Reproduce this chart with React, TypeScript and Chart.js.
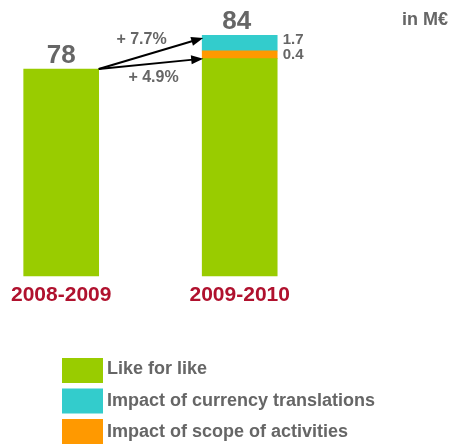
import React, { useEffect, useRef } from 'react';
import { Chart, registerables } from 'chart.js';

Chart.register(...registerables);

// ---- data ----
const categories = ['2008-2009', '2009-2010'];
const likeForLike = [78, 81.9];
const scopeImpact: (number | null)[] = [null, 2.9];
const currencyImpact: (number | null)[] = [null, 5.9];
const totalLabels = ['78', '84'];
const scopeLabels = ['', '0.4'];
const currencyLabels = ['', '1.7'];
const growthLabels = ['+ 7.7%', '+ 4.9%'];
const unitLabel = 'in M€';
const seriesNames = ['Like for like', 'Impact of scope of activities', 'Impact of currency translations'];
const legendOrder = [0, 2, 1];

// ---- styles ----
const FONT = '"Liberation Sans", Arial, Helvetica, sans-serif';
const GRAY = '#666666';
const RED = '#B0112E';
const GREEN = '#99CC00';
const ORANGE = '#FF9900';
const CYAN = '#33CCCC';

function drawArrow(ctx: CanvasRenderingContext2D, x1: number, y1: number, x2: number, y2: number) {
  const ang = Math.atan2(y2 - y1, x2 - x1);
  const hl = 12;
  const hw = 4.5;
  const bx = x2 - hl * Math.cos(ang);
  const by = y2 - hl * Math.sin(ang);
  ctx.beginPath();
  ctx.moveTo(x1, y1);
  ctx.lineTo(bx + 2 * Math.cos(ang), by + 2 * Math.sin(ang));
  ctx.stroke();
  ctx.beginPath();
  ctx.moveTo(x2, y2);
  ctx.lineTo(bx + hw * Math.sin(ang), by - hw * Math.cos(ang));
  ctx.lineTo(bx - hw * Math.sin(ang), by + hw * Math.cos(ang));
  ctx.closePath();
  ctx.fill();
}

const annotationsPlugin = {
  id: 'annotations',
  afterDatasetsDraw(chart: any) {
    const ctx: CanvasRenderingContext2D = chart.ctx;
    const green = chart.getDatasetMeta(0).data;
    const scope = chart.getDatasetMeta(1).data;
    const curr = chart.getDatasetMeta(2).data;
    ctx.save();

    // totals above stacks
    ctx.fillStyle = GRAY;
    ctx.font = `bold 26px ${FONT}`;
    ctx.textAlign = 'center';
    ctx.textBaseline = 'alphabetic';
    categories.forEach((_, i) => {
      let top = green[i].y;
      if (scopeImpact[i] != null) top = Math.min(top, scope[i].y);
      if (currencyImpact[i] != null) top = Math.min(top, curr[i].y);
      ctx.fillText(totalLabels[i], green[i].x - (i === 1 ? 3 : 0), top - 6);
    });

    // segment labels
    ctx.font = `bold 15px ${FONT}`;
    ctx.textAlign = 'left';
    categories.forEach((_, i) => {
      if (currencyImpact[i] != null && currencyLabels[i]) {
        const el = curr[i];
        ctx.fillText(currencyLabels[i], el.x + el.width / 2 + 5.5, el.y + 8.3);
      }
      if (scopeImpact[i] != null && scopeLabels[i]) {
        const el = scope[i];
        ctx.fillText(scopeLabels[i], el.x + el.width / 2 + 5.5, el.y + 7.8);
      }
    });

    // arrows
    const b1 = green[0];
    const g2 = green[1];
    const c2 = curr[1];
    const sx = b1.x + b1.width / 2;
    const sy = b1.y;
    const ex = g2.x - g2.width / 2 + 1;
    const e1y = c2.y + 2.7;
    const e2y = g2.y;
    ctx.strokeStyle = '#000000';
    ctx.fillStyle = '#000000';
    ctx.lineWidth = 2;
    drawArrow(ctx, sx, sy, ex, e1y);
    drawArrow(ctx, sx, sy, ex, e2y);

    // growth labels
    ctx.fillStyle = GRAY;
    ctx.font = `bold 16px ${FONT}`;
    ctx.textAlign = 'center';
    const m1x = (sx + ex) / 2, m1y = (sy + e1y) / 2;
    const m2x = (sx + ex) / 2, m2y = (sy + e2y) / 2;
    ctx.fillText(growthLabels[0], m1x - 9.4, m1y - 9.7);
    ctx.fillText(growthLabels[1], m2x + 2.6, m2y + 17.8);

    // unit
    ctx.font = `bold 18px ${FONT}`;
    ctx.textAlign = 'right';
    ctx.fillText(unitLabel, chart.width - 1, 25);

    // legend
    const area = chart.chartArea;
    const legendTop = area.bottom + 82;
    legendOrder.forEach((dsIndex, k) => {
      const ds = chart.data.datasets[dsIndex];
      const top = legendTop + k * 30.5;
      ctx.fillStyle = ds.backgroundColor;
      ctx.fillRect(62, top, 41, 25);
      ctx.fillStyle = GRAY;
      ctx.font = `bold 18px ${FONT}`;
      ctx.textAlign = 'left';
      ctx.fillText(ds.label, 107, top + 16.3 + k * 0.8);
    });

    ctx.restore();
  },
};

export default function App() {
  const canvasRef = useRef<HTMLCanvasElement | null>(null);

  useEffect(() => {
    if (!canvasRef.current) return;
    const chart = new Chart(canvasRef.current, {
      type: 'bar',
      data: {
        labels: categories,
        datasets: [
          { label: seriesNames[0], data: likeForLike, backgroundColor: GREEN, borderWidth: 0, barThickness: 75, clip: false },
          { label: seriesNames[1], data: scopeImpact, backgroundColor: ORANGE, borderWidth: 0, barThickness: 75, clip: false },
          { label: seriesNames[2], data: currencyImpact, backgroundColor: CYAN, borderWidth: 0, barThickness: 75, clip: false },
        ],
      } as any,
      options: {
        animation: false,
        responsive: false,
        devicePixelRatio: 1,
        layout: { padding: { top: 10.6, bottom: 130.8, left: 61.2, right: 209.3 } },
        plugins: { legend: { display: false }, tooltip: { enabled: false } },
        scales: {
          x: {
            type: 'category',
            stacked: true,
            offset: false,
            grid: { display: false, drawTicks: false, offset: false },
            border: { display: false },
            ticks: {
              autoSkip: false,
              maxRotation: 0,
              padding: 7,
              color: RED,
              font: { family: FONT, size: 21, weight: 'bold' },
            },
          },
          y: {
            stacked: true,
            display: false,
            min: 0,
            max: 100,
          },
        },
      } as any,
      plugins: [annotationsPlugin],
    });
    return () => chart.destroy();
  }, []);

  return (
    <div style={{ position: 'fixed', left: 0, top: 0, width: 449, height: 446, background: '#fff' }}>
      <canvas ref={canvasRef} width={449} height={446} style={{ display: 'block' }} />
    </div>
  );
}
